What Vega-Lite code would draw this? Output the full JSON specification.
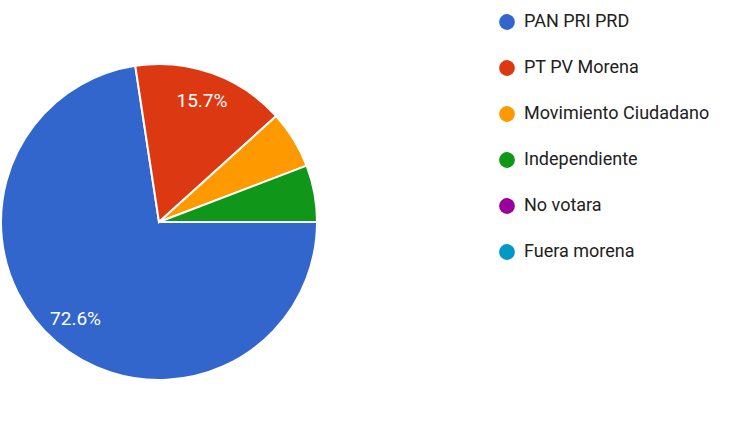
{
  "$schema": "https://vega.github.io/schema/vega-lite/v6.json",
  "width": 318,
  "height": 432,
  "autosize": {"type": "none"},
  "padding": {"left": 0, "top": 6, "right": 413, "bottom": 0},
  "background": "white",
  "config": {"view": {"stroke": null}},
  "data": {
    "values": [
      {"partido": "PAN PRI PRD", "pct": 0.726, "orden": 1},
      {"partido": "PT PV Morena", "pct": 0.157, "orden": 2},
      {"partido": "Movimiento Ciudadano", "pct": 0.059, "orden": 3},
      {"partido": "Independiente", "pct": 0.058, "orden": 4},
      {"partido": "No votara", "pct": 0, "orden": 5},
      {"partido": "Fuera morena", "pct": 0, "orden": 6}
    ]
  },
  "encoding": {
    "theta": {"field": "pct", "type": "quantitative", "stack": true, "scale": {"range": [1.5708, 7.854]}},
    "order": {"field": "orden", "type": "quantitative"},
    "color": {
      "field": "partido",
      "type": "nominal",
      "scale": {
        "domain": ["PAN PRI PRD", "PT PV Morena", "Movimiento Ciudadano", "Independiente", "No votara", "Fuera morena"],
        "range": ["#3366CC", "#DC3912", "#FF9900", "#109618", "#990099", "#0099C6"]
      },
      "legend": {
        "orient": "none",
        "legendX": 498,
        "legendY": 7,
        "title": null,
        "symbolType": "circle",
        "symbolSize": 250,
        "symbolStrokeWidth": 0,
        "symbolOpacity": 1,
        "labelFontSize": 18,
        "labelFont": "Roboto",
        "labelColor": "#212121",
        "labelLimit": 300,
        "rowPadding": 28,
        "labelOffset": 8,
        "padding": 0
      }
    }
  },
  "layer": [
    {"mark": {"type": "arc", "outerRadius": 158, "stroke": "white", "strokeWidth": 2}},
    {
      "mark": {"type": "text", "radius": 128, "fontSize": 19, "font": "Roboto"},
      "encoding": {
        "text": {"condition": {"test": "datum.pct > 0.1", "field": "pct", "format": ".1%"}, "value": ""},
        "color": {"value": "white"}
      }
    }
  ]
}
